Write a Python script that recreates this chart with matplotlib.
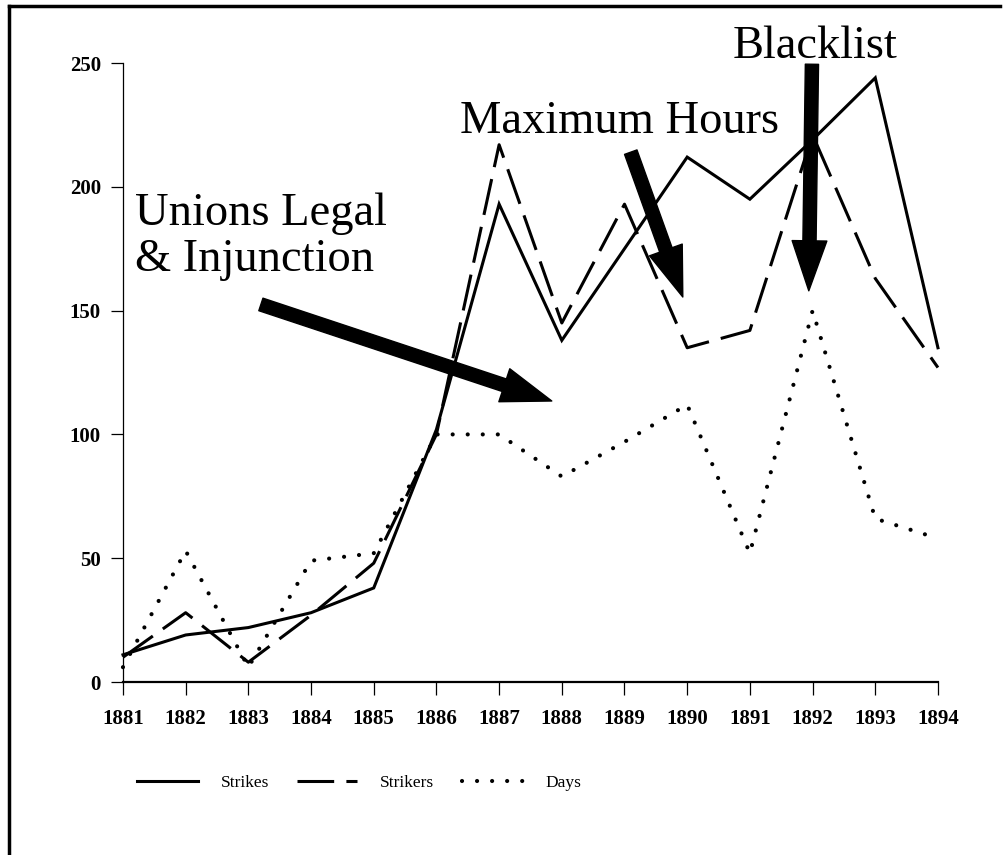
import matplotlib
matplotlib.use("Agg")
import matplotlib.pyplot as plt
from matplotlib.lines import Line2D

plt.rcParams['font.family'] = ['Liberation Serif', 'DejaVu Serif']

years = [1881, 1882, 1883, 1884, 1885, 1886, 1887, 1888, 1889, 1890, 1891, 1892, 1893, 1894]
strikes = [11, 19, 22, 28, 38, 102, 193, 138, 175, 212, 195, 219, 244, 135]
strikers = [10, 28, 8, 27, 48, 100, 217, 145, 193, 135, 142, 221, 163, 127]
days = [6, 53, 6, 49, 52, 100, 100, 83, 97, 112, 52, 150, 66, 58]
yticks = [0, 50, 100, 150, 200, 250]

fig = plt.figure(figsize=(10.08, 8.55), dpi=100)
ax = fig.add_axes([0.122, 0.2023, 0.8085, 0.724])

lw = 2.2
ax.plot(years, strikes, color='black', lw=lw, solid_joinstyle='miter', label='Strikes', clip_on=False)
ax.plot(years, strikers, color='black', lw=lw, dashes=(12, 4), label='Strikers', clip_on=False)
ax.plot(years, days, color='black', lw=3.0, dashes=(0.01, 3.6), dash_capstyle='round',
        label='Days', clip_on=False)

ax.set_xlim(1881, 1894)
ax.set_ylim(0, 250)
ax.set_xticks(years)
ax.set_yticks(yticks)
for s in ['top', 'right']:
    ax.spines[s].set_visible(False)
ax.spines['left'].set_linewidth(0.9)
ax.spines['bottom'].set_linewidth(1.6)
ax.tick_params(axis='y', length=9, width=0.9, pad=7, labelsize=15)
ax.tick_params(axis='x', length=9.5, width=0.9, pad=10, labelsize=15)
for lab in ax.get_xticklabels() + ax.get_yticklabels():
    lab.set_fontweight('bold')

# annotations
big = 33.5
ax.text(1881.19, 184.6, 'Unions Legal', fontsize=big, va='baseline', ha='left')
ax.text(1881.19, 165.8, '& Injunction', fontsize=big, va='baseline', ha='left')
ax.text(1886.37, 221.7, 'Maximum Hours', fontsize=big, va='baseline', ha='left')
ax.text(1890.73, 251.9, 'Blacklist', fontsize=big, va='baseline', ha='left')

arrow = dict(arrowstyle='simple,head_length=3.6,head_width=2.5,tail_width=0.95',
             mutation_scale=10, fc='black', ec='black', shrinkA=0, shrinkB=0)
ax.annotate('', xy=(1887.84, 113.5), xytext=(1883.2, 152.5), arrowprops=arrow, annotation_clip=False)
ax.annotate('', xy=(1889.93, 155.5), xytext=(1889.1, 214), arrowprops=arrow, annotation_clip=False)
ax.annotate('', xy=(1891.94, 158), xytext=(1891.99, 249.5), arrowprops=arrow, annotation_clip=False)

ax.legend(loc='center left', bbox_to_anchor=(0.136, 0.084), bbox_transform=fig.transFigure,
          ncol=3, frameon=False, fontsize=12.5, handlelength=3.5, handletextpad=1.3,
          columnspacing=1.6, borderpad=0, borderaxespad=0)

# figure border (top and left)
fig.add_artist(Line2D([0.009, 0.992], [0.9935, 0.9935], color='black', lw=2.5, transform=fig.transFigure))
fig.add_artist(Line2D([0.009, 0.009], [0.9935, 0.0], color='black', lw=2.5, transform=fig.transFigure))

fig.savefig('out.png', dpi=100)
